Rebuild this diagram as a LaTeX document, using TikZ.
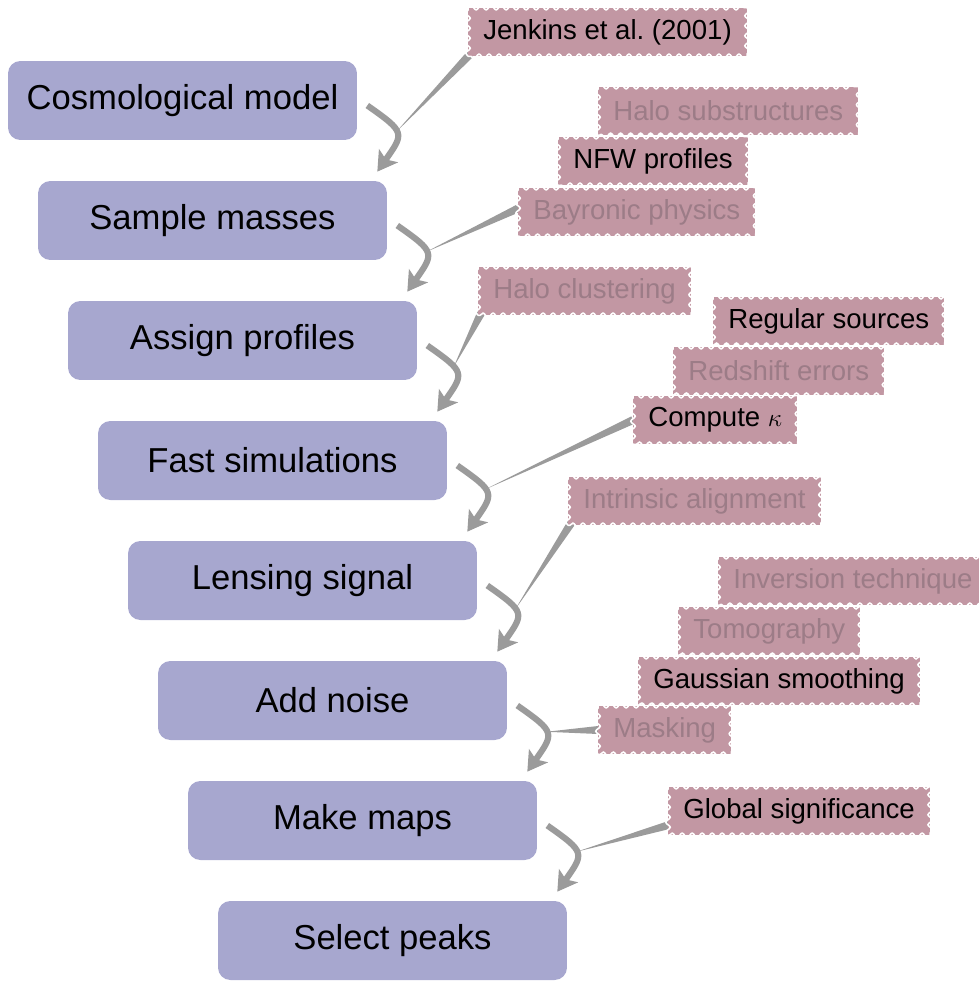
\documentclass[tikz,border=0pt]{standalone}
\usepackage{fontspec}
\setmainfont{Liberation Sans}
\usetikzlibrary{arrows.meta,calc,decorations.pathmorphing,backgrounds}
\definecolor{boxblue}{RGB}{167,167,207}
\definecolor{tagcol}{RGB}{194,151,163}
\definecolor{fadetext}{RGB}{156,124,135}
\definecolor{arrowgray}{RGB}{155,155,155}
\tikzset{
  stagebox/.style={fill=boxblue, rounded corners=7pt, minimum width=6.98cm, minimum height=1.58cm, inner sep=0pt, font=\fontsize{19.7}{22}\selectfont},
  tagbox/.style={fill=tagcol, minimum height=0.96cm, inner xsep=0.3cm, inner ysep=0pt, font=\fontsize{15.7}{18}\selectfont, anchor=west},
  tagedge/.style={draw=white, line width=0.9pt, decorate, decoration={snake, segment length=0.2cm, amplitude=0.045cm}},
  faded/.style={text=fadetext},
  flow/.style={draw=arrowgray, line width=3.5pt, -{Stealth[length=11pt,width=13pt,inset=2.5pt]}, looseness=1.8},
  wedgefill/.style={fill=arrowgray}
}
\newcommand{\wedgeconn}[2]{%
  \fill[wedgefill] ($(#1)!0.08cm!90:(#2)$) -- (#2) -- ($(#1)!0.08cm!-90:(#2)$) -- cycle;}
\newcommand{\tagedges}[1]{%
  \draw[tagedge] (#1.south west) -- (#1.north west);
  \draw[tagedge] (#1.north west) -- (#1.north east);
  \draw[tagedge] (#1.north east) -- (#1.south east);
  \draw[tagedge] (#1.south east) -- (#1.south west);}
\newcommand{\tag}[4][]{%
  \node[tagbox,#1] (#2) at (#3) {#4};
  \tagedges{#2}}
\begin{document}
\begin{tikzpicture}[x=0.02cm,y=0.02cm]
\useasboundingbox (0,0) rectangle (979,-981);
% stages
\node[stagebox] (b1) at (182.5,-100.5) {Cosmological model};
\node[stagebox] (b2) at (212.5,-220.5) {Sample masses};
\node[stagebox] (b3) at (242.5,-340.5) {Assign profiles};
\node[stagebox] (b4) at (272.5,-460.5) {Fast simulations};
\node[stagebox] (b5) at (302.5,-580.5) {Lensing signal};
\node[stagebox] (b6) at (332.5,-700.5) {Add noise};
\node[stagebox] (b7) at (362.5,-820.5) {Make maps};
\node[stagebox] (b8) at (392.5,-940.5) {Select peaks};
% flow arrows
\draw[flow] ($(b1.east)+(10,-5)$) to[out=-35,in=55] coordinate[pos=0.45] (m1) ($(b2.north east)+(-10,9)$);
\draw[flow] ($(b2.east)+(10,-5)$) to[out=-35,in=55] coordinate[pos=0.45] (m2) ($(b3.north east)+(-10,9)$);
\draw[flow] ($(b3.east)+(10,-5)$) to[out=-35,in=55] coordinate[pos=0.35] (m3) ($(b4.north east)+(-10,9)$);
\draw[flow] ($(b4.east)+(10,-5)$) to[out=-35,in=55] coordinate[pos=0.40] (m4) ($(b5.north east)+(-10,9)$);
\draw[flow] ($(b5.east)+(10,-5)$) to[out=-35,in=55] coordinate[pos=0.40] (m5) ($(b6.north east)+(-10,9)$);
\draw[flow] ($(b6.east)+(10,-5)$) to[out=-35,in=55] coordinate[pos=0.45] (m6) ($(b7.north east)+(-10,9)$);
\draw[flow] ($(b7.east)+(10,-5)$) to[out=-35,in=55] coordinate[pos=0.45] (m7) ($(b8.north east)+(-10,9)$);
% tags
\tag{t1}{468,-32}{Jenkins et al.\ (2001)}
\tag[faded]{t2}{598,-111}{Halo substructures}
\tag{t3}{558,-161}{NFW profiles}
\tag[faded]{t4}{518,-212}{Bayronic physics}
\tag[faded]{t5}{478,-291}{Halo clustering}
\tag{t6}{713,-321}{Regular sources}
\tag[faded]{t7}{673,-371}{Redshift errors}
\tag{t8}{633,-420}{Compute $\kappa$}
\tag[faded]{t9}{568,-501}{Intrinsic alignment}
\tag[faded]{t10}{718,-581}{Inversion technique}
\tag[faded]{t11}{678,-631}{Tomography}
\tag{t12}{638,-681}{Gaussian smoothing}
\tag[faded]{t13}{598,-730}{Masking}
\tag{t14}{668,-811}{Global significance}
% callout wedges
\begin{scope}[on background layer]
\coordinate (w1) at ($(t1.south west)+(2,2)$);
\coordinate (w4) at ($(t4.west)+(1,4)$);
\coordinate (w5) at ($(t5.south west)+(3,2)$);
\coordinate (w8) at (t8.west);
\coordinate (w9) at ($(t9.south west)+(3,2)$);
\coordinate (w13) at (t13.west);
\coordinate (w14) at ($(t14.west)+(1,-14)$);
\wedgeconn{w1}{m1}
\wedgeconn{w4}{m2}
\wedgeconn{w5}{m3}
\wedgeconn{w8}{m4}
\wedgeconn{w9}{m5}
\wedgeconn{w13}{m6}
\wedgeconn{w14}{m7}
\end{scope}
\end{tikzpicture}
\end{document}
